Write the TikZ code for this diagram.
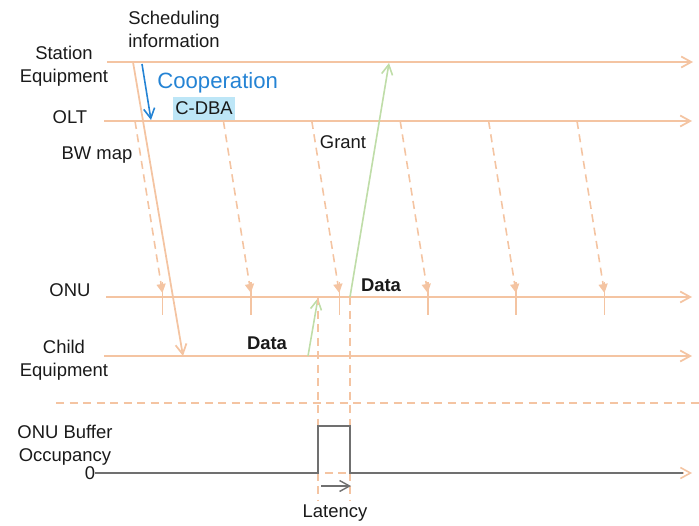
\documentclass[tikz,border=0pt]{standalone}
\usepackage{fontspec}
\setmainfont{Liberation Sans}
\usetikzlibrary{arrows.meta}
\definecolor{tline}{HTML}{F4C4A2}
\definecolor{dgreen}{HTML}{BFDDA8}
\definecolor{coopblue}{HTML}{2483D4}
\definecolor{cdbabg}{HTML}{BDE6F7}
\definecolor{ink}{HTML}{1A1A1A}
\definecolor{bufgray}{HTML}{707070}
\tikzset{
  lbl/.style={font=\fontsize{10.5}{13}\selectfont,text=ink,align=center,inner sep=0pt},
  timeline/.style={draw=tline,line width=1pt,-{Straight Barb[length=2mm,width=2.2mm]}},
  maparrow/.style={draw=tline,line width=0.9pt,dash pattern=on 1.6mm off 1.1mm,-{Triangle[length=1.8mm,width=1.8mm]}},
  dataarrow/.style={draw=dgreen,line width=0.9pt,-{Straight Barb[length=2mm,width=2.2mm]}},
  guide/.style={draw=tline,line width=0.9pt,dash pattern=on 1.6mm off 1.1mm},
}
\begin{document}
\begin{tikzpicture}
    \useasboundingbox (0,0) rectangle (13.98,10.5);
    % row labels
    \node[lbl,anchor=west,align=left] (sched) at (2.56,9.91) {Scheduling\\information};
    \node[lbl] (steq) at (1.28,9.17) {Station\\Equipment};
    \node[lbl] (olt) at (1.4,8.16) {OLT};
    \node[lbl] (bwmap) at (1.94,7.4) {BW map};
    \node[lbl] (grant) at (6.86,7.66) {Grant};
    \node[lbl] (onu) at (1.4,4.7) {ONU};
    \node[lbl] (cheq) at (1.28,3.3) {Child\\Equipment};
    \node[lbl] (buf) at (1.3,1.6) {ONU Buffer\\Occupancy};
    \node[lbl] (zero) at (1.8,1.04) {0};
    \node[lbl] (lat) at (6.7,0.24) {Latency};
    \node[lbl,font={\fontsize{10.5}{13}\selectfont\bfseries}] (data1) at (7.62,4.8) {Data};
    \node[lbl,font={\fontsize{10.5}{13}\selectfont\bfseries}] (data2) at (5.34,3.64) {Data};
    \node[lbl,anchor=west,text=coopblue,font=\fontsize{12.6}{15}\selectfont] (coop) at (3.14,8.84) {Cooperation};
    \node[lbl,fill=cdbabg,minimum width=1.24cm,minimum height=0.46cm] (cdba) at (4.08,8.33) {C-DBA};

    % time lines
    \coordinate (se0) at (2.14,9.26); \coordinate (se1) at (13.86,9.26);
    \coordinate (ol0) at (2.08,8.08); \coordinate (ol1) at (13.84,8.08);
    \coordinate (on0) at (2.12,4.56); \coordinate (on1) at (13.84,4.56);
    \coordinate (ch0) at (2.08,3.38); \coordinate (ch1) at (13.84,3.38);
    \draw[timeline] (se0) -- (se1);
    \draw[timeline] (ol0) -- (ol1);
    \draw[timeline] (on0) -- (on1);
    \draw[timeline] (ch0) -- (ch1);
    \coordinate (sep0) at (1.12,2.44); \coordinate (sep1) at (13.98,2.44);
    \draw[guide] (sep0) -- (sep1);

    % scheduling info and cooperation
    \coordinate (si0) at (2.66,9.26); \coordinate (si1) at (3.66,3.38);
    \draw[timeline] (si0) -- (si1);
    \coordinate (co0) at (2.84,9.22); \coordinate (co1) at (3.02,8.1);
    \draw[draw=coopblue,line width=0.9pt,-{Straight Barb[length=2mm,width=2.2mm]}] (co0) -- (co1);

    % bandwidth maps from OLT to ONU
    \foreach \i in {0,...,5} {
        \coordinate (bm\i) at ({2.7+1.768*\i},8.08);
        \coordinate (bt\i) at ({3.25+1.768*\i},4.64);
        \coordinate (tk\i) at ({3.25+1.768*\i},4.86);
        \coordinate (tb\i) at ({3.25+1.768*\i},4.2);
        \draw[maparrow] (bm\i) -- (bt\i);
        \draw[draw=tline,line width=0.9pt] (tk\i) -- (tb\i);
    }

    % data upstream
    \coordinate (ud0) at (6.16,3.38); \coordinate (ud1) at (6.36,4.54);
    \draw[dataarrow] (ud0) -- (ud1);
    \coordinate (ug0) at (7.0,4.56); \coordinate (ug1) at (7.78,9.24);
    \draw[dataarrow] (ug0) -- (ug1);

    % buffer occupancy
    \coordinate (va0) at (6.36,4.56); \coordinate (va1) at (6.36,0.5);
    \coordinate (vb0) at (7.0,4.56); \coordinate (vb1) at (7.0,0.5);
    \draw[guide] (va0) -- (va1);
    \draw[guide] (vb0) -- (vb1);
    \coordinate (zl1) at (13.84,1.04);
    \draw[guide,-{Straight Barb[length=2mm,width=2.2mm]}] (zero.east) -- (zl1);
    \coordinate (p0) at (6.36,1.04); \coordinate (p1) at (6.36,1.98);
    \coordinate (p2) at (7.0,1.98); \coordinate (p3) at (7.0,1.04);
    \coordinate (zl2) at (13.66,1.04);
    \draw[draw=bufgray,line width=0.8pt] (zero.east) -- (p0) -- (p1) -- (p2) -- (p3) -- (zl2);
    \coordinate (la0) at (6.42,0.78); \coordinate (la1) at (7.02,0.78);
    \draw[draw=bufgray,line width=0.8pt,-{Straight Barb[length=2mm,width=2.2mm]}] (la0) -- (la1);
\end{tikzpicture}
\end{document}
